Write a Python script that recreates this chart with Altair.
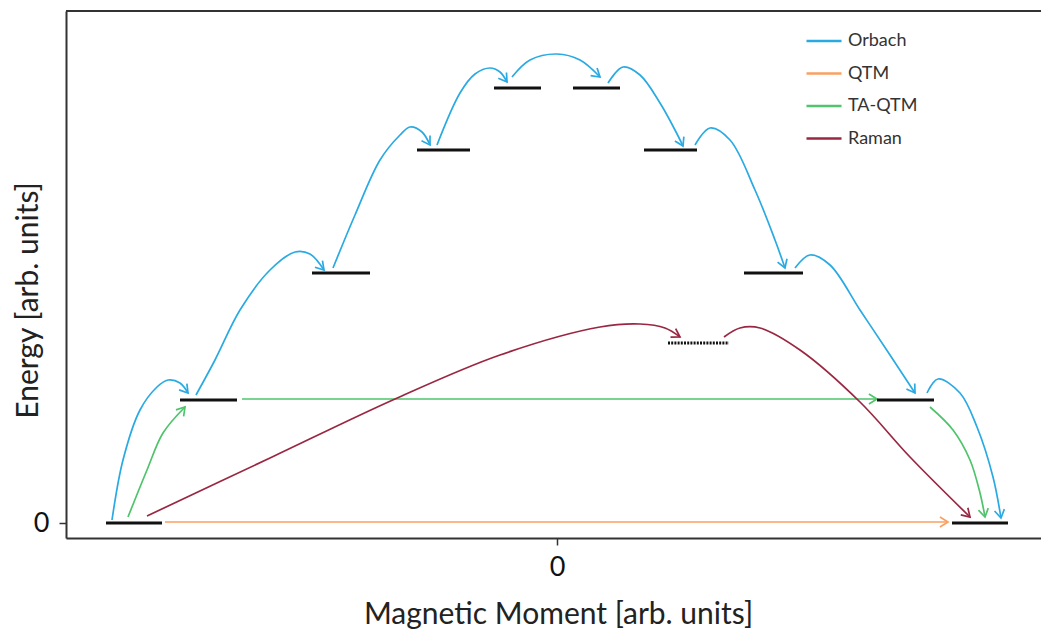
import math
import altair as alt
import pandas as pd

# ---- energy levels (moment in arb. units, energy in arb. units) ----
level_x1 = [-451, 395, -377, 320, -245, 187, -140, 87, -63, 16]
level_x2 = [-395, 451, -320, 377, -187, 246, -87, 140, -16, 63]
level_e = [0, 0, 123, 123, 250, 250, 373, 373, 435, 435]

virtual_x1 = [111]
virtual_x2 = [172]
virtual_e = [180]

processes = ["Orbach", "QTM", "TA-QTM", "Raman"]
colors = ["#2aaae2", "#f9a062", "#4fc46c", "#9a2742"]

# ---- relaxation pathways (points read along each arrow) ----
orbach_1_x = [-445, -434, -417, -400, -389, -377, -369]
orbach_1_y = [3, 63, 113, 136, 143, 140, 130]
orbach_2_x = [-361, -342, -317, -287, -262, -247, -233]
orbach_2_y = [128, 163, 213, 253, 271, 269, 253]
orbach_3_x = [-224, -202, -177, -157, -147, -135, -127]
orbach_3_y = [255, 308, 363, 388, 396, 391, 378]
orbach_4_x = [-120, -97, -82, -67, -57, -50]
orbach_4_y = [378, 430, 449, 455, 451, 441]
orbach_5_x = [-45, -27, 0, 23, 43]
orbach_5_y = [446, 463, 469, 463, 446]
orbach_6_x = [51, 66, 83, 103, 118, 126]
orbach_6_y = [440, 456, 448, 420, 393, 377]
orbach_7_x = [138, 153, 173, 198, 218, 228]
orbach_7_y = [378, 395, 383, 333, 283, 255]
orbach_8_x = [238, 253, 273, 303, 333, 358]
orbach_8_y = [255, 268, 258, 213, 168, 130]
orbach_9_x = [370, 381, 403, 420, 436, 444]
orbach_9_y = [130, 144, 130, 96, 46, 5]

qtm_x = [-392, 391]
qtm_y = [1, 1]

taqtm_1_x = [-429, -410, -394, -372]
taqtm_1_y = [6, 53, 90, 116]
taqtm_2_x = [-315, 320]
taqtm_2_y = [124, 124]
taqtm_3_x = [373, 396, 413, 423, 428]
taqtm_3_y = [116, 93, 63, 30, 6]

raman_1_x = [-410, -287, -162, -57, 43, 83, 108, 123]
raman_1_y = [7, 65, 124, 168, 196, 199, 195, 186]
raman_2_x = [167, 183, 203, 243, 303, 353, 413]
raman_2_y = [186, 195, 195, 173, 121, 66, 6]

curves = [
    ("Orbach", orbach_1_x, orbach_1_y), ("Orbach", orbach_2_x, orbach_2_y),
    ("Orbach", orbach_3_x, orbach_3_y), ("Orbach", orbach_4_x, orbach_4_y),
    ("Orbach", orbach_5_x, orbach_5_y), ("Orbach", orbach_6_x, orbach_6_y),
    ("Orbach", orbach_7_x, orbach_7_y), ("Orbach", orbach_8_x, orbach_8_y),
    ("Orbach", orbach_9_x, orbach_9_y),
    ("QTM", qtm_x, qtm_y),
    ("TA-QTM", taqtm_1_x, taqtm_1_y), ("TA-QTM", taqtm_2_x, taqtm_2_y),
    ("TA-QTM", taqtm_3_x, taqtm_3_y),
    ("Raman", raman_1_x, raman_1_y), ("Raman", raman_2_x, raman_2_y),
]

X_DOMAIN = [-491, 484]
Y_DOMAIN = [-15, 512]
W, H = 975, 527
sx = W / (X_DOMAIN[1] - X_DOMAIN[0])
sy = H / (Y_DOMAIN[1] - Y_DOMAIN[0])

rows, heads = [], []
for cid, (proc, xs, ys) in enumerate(curves):
    for i, (xv, yv) in enumerate(zip(xs, ys)):
        rows.append({"curve": cid, "order": i, "process": proc, "x": xv, "y": yv})
    dx = (xs[-1] - xs[-2]) * sx
    dy = -(ys[-1] - ys[-2]) * sy
    ang = math.degrees(math.atan2(dy, dx)) % 360
    heads.append({"process": proc, "x": xs[-1], "y": ys[-1], "angle": ang})

lines_df = pd.DataFrame(rows)
heads_df = pd.DataFrame(heads)
levels_df = pd.DataFrame({"x1": level_x1, "x2": level_x2, "e": level_e})
virtual_df = pd.DataFrame({"x1": virtual_x1, "x2": virtual_x2, "e": virtual_e})

FONT = "Lato"

xscale = alt.Scale(domain=X_DOMAIN, nice=False, zero=False)
yscale = alt.Scale(domain=Y_DOMAIN, nice=False, zero=False)
cscale = alt.Scale(domain=processes, range=colors)

x_axis = alt.Axis(values=[0], title="Magnetic Moment [arb. units]", grid=False,
                  domainColor="#333", domainWidth=2, tickColor="#333", tickWidth=1.5,
                  tickSize=7, labelFontSize=27, labelFont=FONT, labelColor="#111",
                  labelPadding=9, titleFont=FONT, titleFontSize=30, titleFontWeight="normal",
                  titleColor="#222", titleX=492, titleY=76, titleBaseline="middle")
y_axis = alt.Axis(values=[0], title="Energy [arb. units]", grid=False,
                  domainColor="#333", domainWidth=2, tickColor="#333", tickWidth=1.5,
                  tickSize=7, labelFontSize=27, labelFont=FONT, labelColor="#111",
                  labelPadding=10, titleFont=FONT, titleFontSize=30, titleFontWeight="normal",
                  titleColor="#222", titleX=-38, titleY=289, titleAngle=270,
                  titleAlign="center", titleBaseline="middle")

lines = alt.Chart(lines_df).mark_line(interpolate="catmull-rom", strokeWidth=1.7).encode(
    x=alt.X("x:Q", scale=xscale, axis=x_axis),
    y=alt.Y("y:Q", scale=yscale, axis=y_axis),
    color=alt.Color("process:N", scale=cscale, sort=processes,
                    legend=alt.Legend(title=None, orient="none", legendX=739, legendY=11,
                                      symbolType="stroke", symbolStrokeWidth=2.5,
                                      symbolSize=1225, labelFont=FONT, labelFontSize=18,
                                      labelColor="#333", rowPadding=4.5, padding=0,
                                      labelOffset=5)),
    detail="curve:N",
    order="order:Q",
)

heads_layer = alt.Chart(heads_df).mark_point(
    shape="M-1,-0.62L0,0L-1,0.62", filled=False, strokeWidth=1.7, size=260, opacity=1
).encode(
    x=alt.X("x:Q", scale=xscale),
    y=alt.Y("y:Q", scale=yscale),
    color=alt.Color("process:N", scale=cscale, legend=None),
    angle=alt.Angle("angle:Q", scale=None),
)

levels = alt.Chart(levels_df).mark_rule(color="#111", strokeWidth=3).encode(
    x=alt.X("x1:Q", scale=xscale), x2="x2:Q", y=alt.Y("e:Q", scale=yscale)
)

virtual = alt.Chart(virtual_df).mark_rule(color="#111", strokeWidth=3, strokeDash=[2, 1.2]).encode(
    x=alt.X("x1:Q", scale=xscale), x2="x2:Q", y=alt.Y("e:Q", scale=yscale)
)

top_border = alt.Chart(levels_df).mark_rule(color="#333", strokeWidth=2).encode(
    x=alt.value(0), x2=alt.value(W), y=alt.value(0)
)

chart = alt.layer(top_border, lines, heads_layer, levels, virtual).properties(
    width=W, height=H, autosize="none",
    padding={"left": 66, "top": 11, "right": 0, "bottom": 96},
).configure_view(stroke=None).configure(background="white")

chart.save("out.html", embed_options={"renderer": "svg", "actions": False})
